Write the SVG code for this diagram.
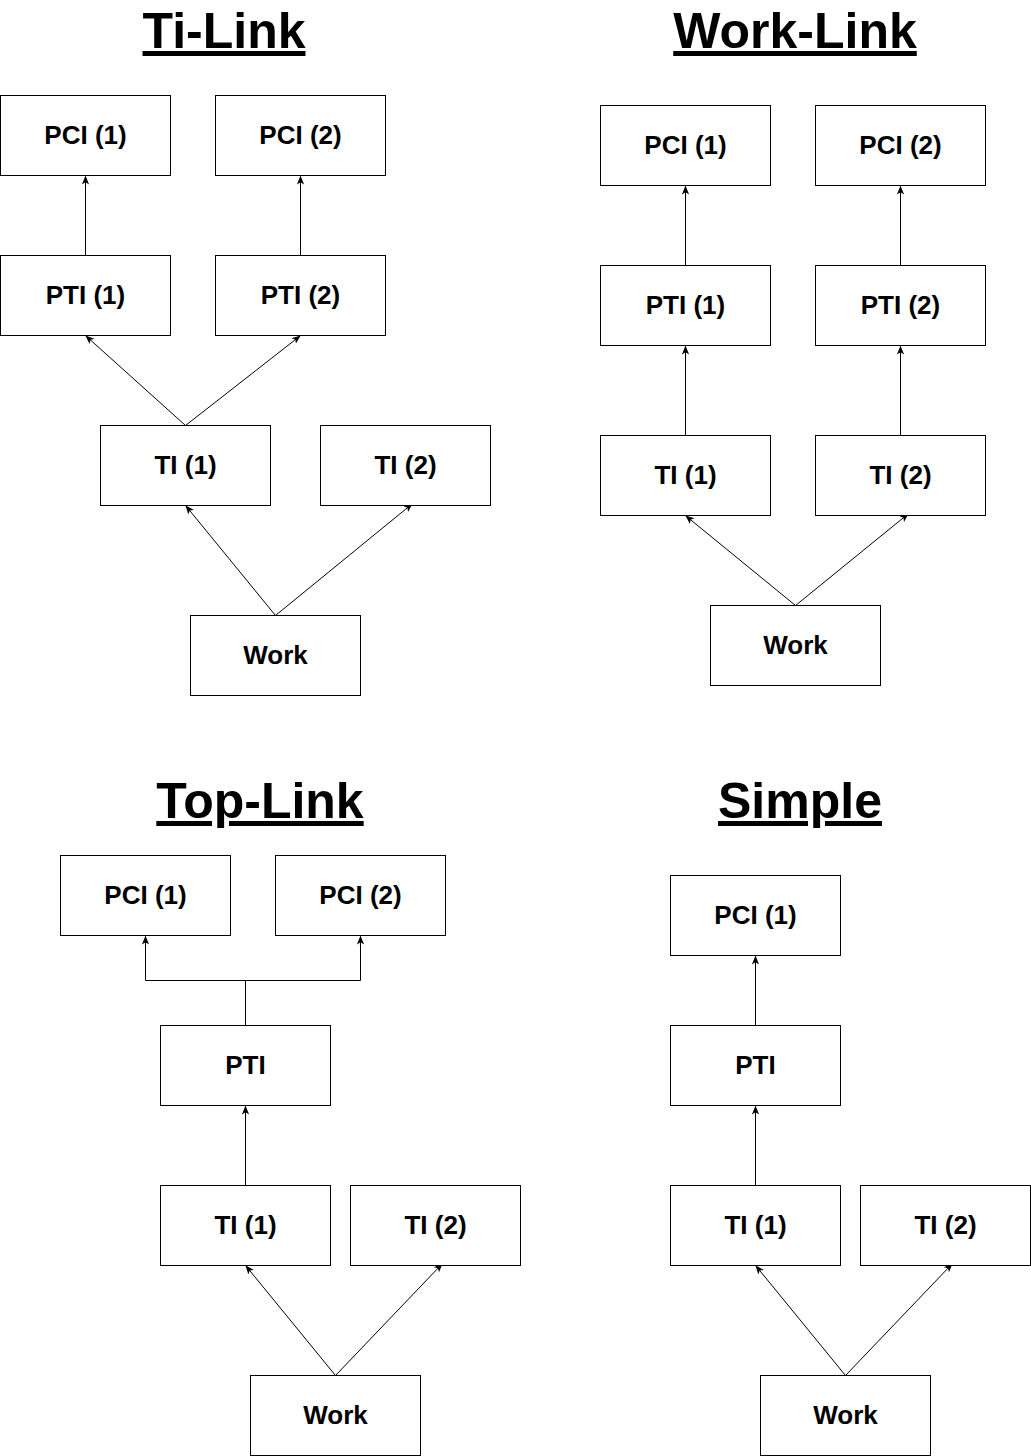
<svg xmlns="http://www.w3.org/2000/svg" width="1031" height="1456" viewBox="0 0 1031 1456">
<style>
.n rect{fill:#fff;stroke:#000;stroke-width:1}
.n text{font-family:"Liberation Sans",Arial,sans-serif;font-weight:bold;font-size:26px;text-anchor:middle;fill:#000}
.t{font-family:"Liberation Sans",Arial,sans-serif;font-weight:bold;font-size:50px;text-anchor:middle;text-decoration:underline;fill:#000}
#edges path{fill:none;stroke:#000;stroke-width:1;marker-end:url(#a)}
</style>
<defs>
<marker id="a" viewBox="0 0 10 10" refX="9" refY="5" markerWidth="9" markerHeight="9" markerUnits="userSpaceOnUse" orient="auto">
<path d="M0,1 L10,5 L0,9 L2.5,5 Z" fill="#000"/>
</marker>
</defs>
<rect width="1031" height="1456" fill="#fff"/>
<text class="t" x="224" y="48">Ti-Link</text>
<text class="t" x="795" y="48">Work-Link</text>
<text class="t" x="260" y="818">Top-Link</text>
<text class="t" x="800" y="818">Simple</text>

<g id="edges">
<path d="M85.5,255.5 V176.5"/>
<path d="M300.5,255.5 V176.5"/>
<path d="M185.5,425.5 L86,336"/>
<path d="M185.5,425.5 L300,336"/>
<path d="M275.5,615.5 L186,506"/>
<path d="M275.5,615.5 L412,504"/>

<path d="M685.5,265.5 V186.5"/>
<path d="M900.5,265.5 V186.5"/>
<path d="M685.5,435.5 V346.5"/>
<path d="M900.5,435.5 V346.5"/>
<path d="M795.5,605.5 L686,516"/>
<path d="M795.5,605.5 L908,514"/>

<path d="M245.5,1025.5 V980.5 H145.5 V936.5"/>
<path d="M245.5,980.5 H360.5 V936.5"/>
<path d="M245.5,1185.5 V1106.5"/>
<path d="M335.5,1375.5 L246,1266"/>
<path d="M335.5,1375.5 L442,1264"/>

<path d="M755.5,1025.5 V956.5"/>
<path d="M755.5,1185.5 V1106.5"/>
<path d="M845.5,1375.5 L756,1266"/>
<path d="M845.5,1375.5 L952,1264"/>
</g>

<g id="tl-pci1" class="n"><rect x="0.5" y="95.5" width="170" height="80"/><text x="85.5" y="144">PCI (1)</text></g>
<g id="tl-pci2" class="n"><rect x="215.5" y="95.5" width="170" height="80"/><text x="300.5" y="144">PCI (2)</text></g>
<g id="tl-pti1" class="n"><rect x="0.5" y="255.5" width="170" height="80"/><text x="85.5" y="304">PTI (1)</text></g>
<g id="tl-pti2" class="n"><rect x="215.5" y="255.5" width="170" height="80"/><text x="300.5" y="304">PTI (2)</text></g>
<g id="tl-ti1" class="n"><rect x="100.5" y="425.5" width="170" height="80"/><text x="185.5" y="474">TI (1)</text></g>
<g id="tl-ti2" class="n"><rect x="320.5" y="425.5" width="170" height="80"/><text x="405.5" y="474">TI (2)</text></g>
<g id="tl-work" class="n"><rect x="190.5" y="615.5" width="170" height="80"/><text x="275.5" y="664">Work</text></g>

<g id="wl-pci1" class="n"><rect x="600.5" y="105.5" width="170" height="80"/><text x="685.5" y="154">PCI (1)</text></g>
<g id="wl-pci2" class="n"><rect x="815.5" y="105.5" width="170" height="80"/><text x="900.5" y="154">PCI (2)</text></g>
<g id="wl-pti1" class="n"><rect x="600.5" y="265.5" width="170" height="80"/><text x="685.5" y="314">PTI (1)</text></g>
<g id="wl-pti2" class="n"><rect x="815.5" y="265.5" width="170" height="80"/><text x="900.5" y="314">PTI (2)</text></g>
<g id="wl-ti1" class="n"><rect x="600.5" y="435.5" width="170" height="80"/><text x="685.5" y="484">TI (1)</text></g>
<g id="wl-ti2" class="n"><rect x="815.5" y="435.5" width="170" height="80"/><text x="900.5" y="484">TI (2)</text></g>
<g id="wl-work" class="n"><rect x="710.5" y="605.5" width="170" height="80"/><text x="795.5" y="654">Work</text></g>

<g id="top-pci1" class="n"><rect x="60.5" y="855.5" width="170" height="80"/><text x="145.5" y="904">PCI (1)</text></g>
<g id="top-pci2" class="n"><rect x="275.5" y="855.5" width="170" height="80"/><text x="360.5" y="904">PCI (2)</text></g>
<g id="top-pti" class="n"><rect x="160.5" y="1025.5" width="170" height="80"/><text x="245.5" y="1074">PTI</text></g>
<g id="top-ti1" class="n"><rect x="160.5" y="1185.5" width="170" height="80"/><text x="245.5" y="1234">TI (1)</text></g>
<g id="top-ti2" class="n"><rect x="350.5" y="1185.5" width="170" height="80"/><text x="435.5" y="1234">TI (2)</text></g>
<g id="top-work" class="n"><rect x="250.5" y="1375.5" width="170" height="80"/><text x="335.5" y="1424">Work</text></g>

<g id="s-pci1" class="n"><rect x="670.5" y="875.5" width="170" height="80"/><text x="755.5" y="924">PCI (1)</text></g>
<g id="s-pti" class="n"><rect x="670.5" y="1025.5" width="170" height="80"/><text x="755.5" y="1074">PTI</text></g>
<g id="s-ti1" class="n"><rect x="670.5" y="1185.5" width="170" height="80"/><text x="755.5" y="1234">TI (1)</text></g>
<g id="s-ti2" class="n"><rect x="860.5" y="1185.5" width="170" height="80"/><text x="945.5" y="1234">TI (2)</text></g>
<g id="s-work" class="n"><rect x="760.5" y="1375.5" width="170" height="80"/><text x="845.5" y="1424">Work</text></g>
</svg>
